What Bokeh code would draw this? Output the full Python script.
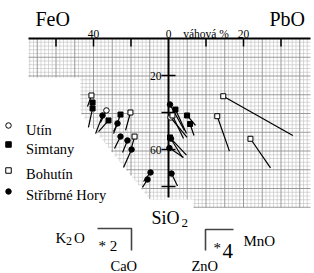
from bokeh.plotting import figure
from bokeh.models import Range1d
from bokeh.embed import file_html
from bokeh.resources import INLINE
from bokeh.core.properties import value

# ---------------- data (chart units: x<0 = FeO %, x>0 = 2*PbO %, y = SiO2 %) -------------
utin_x = [-33.1, 1.1]
utin_y = [38.9, 42.7]
utin_tx = [-36.3, 9.9]
utin_ty = [45.4, 53.5]

simtany_x = [-40.5, -40.5, -32.0, -25.6, 3.7, 9.9, 11.5, 0.8]
simtany_y = [34.6, 37.8, 44.3, 41.1, 38.4, 41.6, 46.2, 53.5]
simtany_tx = [-41.6, -42.7, -37.3, -29.3, 9.6, 14.4, 13.6, 7.5]
simtany_ty = [38.4, 48.1, 50.3, 51.4, 51.4, 47.0, 52.4, 64.3]

bohutin_x = [-41.1, -20.3, -18.1, 2.1, 29.2, 26.0, 43.7]
bohutin_y = [30.8, 40.0, 53.0, 41.6, 31.2, 42.0, 54.2]
bohutin_tx = [-43.2, -22.9, -19.7, 8.0, 66.3, 32.5, 54.4]
bohutin_ty = [36.8, 49.7, 58.9, 54.1, 52.4, 60.9, 69.9]

stribrne_x = [-35.2, -27.2, -25.6, -21.9, -19.7, -9.6, -11.2, 0.8, 1.3, 0.5, 1.6]
stribrne_y = [41.6, 45.9, 53.0, 55.1, 60.0, 72.4, 76.2, 35.7, 54.1, 59.2, 73.0]
stribrne_tx = [-38.9, -29.3, -28.8, -24.5, -24.0, -13.3, -13.9, 8.5, 9.6, 8.0, 4.8]
stribrne_ty = [51.4, 50.3, 59.5, 61.6, 69.7, 77.3, 80.5, 49.7, 63.0, 64.3, 79.7]

feo_ticks = [60, 40, 20]
pbo_ticks = [10, 20, 30]
sio2_ticks = [20, 40, 60, 80]
feo_tick_labels = {40: "40"}
pbo_tick_labels = {10: "váhová %", 20: "20"}
sio2_tick_labels = {20: "20", 60: "60"}

legend_names = ["Utín", "Simtany", "Bohutín", "Stříbrné Hory"]

# ---------------- layout helpers ----------------
W, H = 314, 273
OX, OY = 168.0, 38.0
SX, SY = 1.875, 1.85


def ux(px):
    return (px - OX) / SX


def uy(py):
    return (py - OY) / SY


SERIF = value("Liberation Serif")

p = figure(width=W, height=H, x_range=Range1d(ux(0), ux(W)),
           y_range=Range1d(uy(H), uy(0)), output_backend="svg",
           toolbar_location=None, min_border=0,
           x_axis_type=None, y_axis_type=None)
p.outline_line_color = None
p.background_fill_color = "white"
p.border_fill_color = "white"

# ---------------- graph paper ----------------
cell = 3.75
fine = dict(x0=[], y0=[], x1=[], y1=[])
major = dict(x0=[], y0=[], x1=[], y1=[])
k = 1
while OY + k * cell < 207.5:
    yy = OY + k * cell
    if yy <= 77:
        xl = 28
    elif yy <= 112:
        xl = 80
    else:
        xl = 80 + (yy - 112) * 0.8
    d = major if k % 5 == 0 else fine
    d["x0"].append(ux(xl)); d["x1"].append(ux(310))
    d["y0"].append(uy(yy)); d["y1"].append(uy(yy))
    k += 1
for j in range(-37, 38):
    if j == 0:
        continue
    xx = OX + j * cell
    if xx < 80:
        yb = 77
    elif xx < 156:
        yb = 112 + (xx - 80) / 0.8
    else:
        yb = 207
    d = major if j % 5 == 0 else fine
    d["x0"].append(ux(xx)); d["x1"].append(ux(xx))
    d["y0"].append(uy(38)); d["y1"].append(uy(yb))
p.segment(**fine, line_color="#c0c0c0", line_width=0.6)
p.segment(**major, line_color="#909090", line_width=0.9)

# ---------------- axes ----------------
p.segment(x0=[ux(28)], y0=[0], x1=[ux(310)], y1=[0], line_color="black", line_width=2)
p.segment(x0=[0], y0=[0], x1=[0], y1=[uy(197)], line_color="black", line_width=2)
tx = [-v for v in feo_ticks] + [2 * v for v in pbo_ticks]
p.segment(x0=tx, y0=[0] * len(tx), x1=tx, y1=[uy(46)] * len(tx), line_color="black", line_width=1.5)
p.segment(x0=[ux(161)] * len(sio2_ticks), y0=sio2_ticks, x1=[ux(175)] * len(sio2_ticks),
          y1=sio2_ticks, line_color="black", line_width=1.5)

lx = [-v for v in feo_tick_labels] + [0] + [2 * v for v in pbo_tick_labels]
lt = list(feo_tick_labels.values()) + ["0"] + list(pbo_tick_labels.values())
p.text(x=lx, y=[uy(33)] * len(lx), text=lt, text_align="center", text_baseline="alphabetic",
       text_font=SERIF, text_font_size="11.5px", text_color="black")
p.text(x=[ux(161)] * len(sio2_tick_labels), y=list(sio2_tick_labels.keys()),
       text=list(sio2_tick_labels.values()), text_align="right", text_baseline="middle",
       text_font=SERIF, text_font_size="11.5px", text_color="black")

# oxide names
p.text(x=[ux(35), ux(269)], y=[uy(18.5)] * 2, text=["FeO", "PbO"], text_align="left",
       text_baseline="alphabetic", text_font=SERIF, text_font_size="20px", text_color="black")
p.quad(left=[ux(148)], right=[ux(193)], top=[uy(199)], bottom=[uy(224)], fill_color="white",
       line_color=None)
p.text(x=[ux(151)], y=[uy(217)], text=["SiO"], text_align="left", text_baseline="alphabetic",
       text_font=SERIF, text_font_size="18px", text_color="black")
p.text(x=[ux(181)], y=[uy(222)], text=["2"], text_align="left", text_baseline="alphabetic",
       text_font=SERIF, text_font_size="13px", text_color="black")

# ---------------- data marks ----------------
series = [
    (utin_x, utin_y, utin_tx, utin_ty, "circle", "white", 5.5),
    (bohutin_x, bohutin_y, bohutin_tx, bohutin_ty, "square", "white", 5),
    (simtany_x, simtany_y, simtany_tx, simtany_ty, "square", "black", 5),
    (stribrne_x, stribrne_y, stribrne_tx, stribrne_ty, "circle", "black", 5.5),
]
for xs, ys, txs, tys, m, fc, sz in series:
    p.segment(x0=xs, y0=ys, x1=txs, y1=tys, line_color="black", line_width=1.2)
for xs, ys, txs, tys, m, fc, sz in series:
    p.scatter(x=xs, y=ys, marker=m, size=sz, fill_color=fc, line_color="black", line_width=1)

# ---------------- legend ----------------
leg_y = [125, 144, 170, 191]
leg_base = [129, 148, 173.5, 194.5]
leg_m = ["circle", "square", "square", "circle"]
leg_fc = ["white", "black", "white", "black"]
for i in range(4):
    p.scatter(x=[ux(8)], y=[uy(leg_y[i])], marker=leg_m[i], size=5.5, fill_color=leg_fc[i],
              line_color="black", line_width=1)
p.text(x=[ux(25.5)] * 4, y=[uy(b) for b in leg_base], text=legend_names, text_align="left",
       text_baseline="alphabetic", text_font=SERIF, text_font_size="14.5px", text_color="black")

# ---------------- bottom key ----------------
p.line(x=[ux(97), ux(131), ux(131)], y=[uy(228), uy(228), uy(250)], line_color="#444444",
       line_width=1.6)
p.line(x=[ux(205), ux(205), ux(233)], y=[uy(250), uy(229), uy(229)], line_color="#444444",
       line_width=1.6)
p.text(x=[ux(55)], y=[uy(237)], text=["K"], text_align="left", text_baseline="alphabetic",
       text_font=SERIF, text_font_size="15px", text_color="black")
p.text(x=[ux(65.5)], y=[uy(240.5)], text=["2"], text_align="left", text_baseline="alphabetic",
       text_font=SERIF, text_font_size="12px", text_color="black")
p.text(x=[ux(73.5)], y=[uy(237)], text=["O"], text_align="left", text_baseline="alphabetic",
       text_font=SERIF, text_font_size="15px", text_color="black")
p.text(x=[ux(98)], y=[uy(245)], text=["* 2"], text_align="left", text_baseline="alphabetic",
       text_font=SERIF, text_font_size="15px", text_color="black")
p.text(x=[ux(110)], y=[uy(265.5)], text=["CaO"], text_align="left", text_baseline="alphabetic",
       text_font=SERIF, text_font_size="14.5px", text_color="black")
p.text(x=[ux(213)], y=[uy(247)], text=["*"], text_align="left", text_baseline="alphabetic",
       text_font=SERIF, text_font_size="15px", text_color="black")
p.text(x=[ux(222)], y=[uy(250)], text=["4"], text_align="left", text_baseline="alphabetic",
       text_font=SERIF, text_font_size="21px", text_color="black")
p.text(x=[ux(243)], y=[uy(240)], text=["MnO"], text_align="left", text_baseline="alphabetic",
       text_font=SERIF, text_font_size="15px", text_color="black")
p.text(x=[ux(191)], y=[uy(265.5)], text=["ZnO"], text_align="left", text_baseline="alphabetic",
       text_font=SERIF, text_font_size="14.5px", text_color="black")

open("out.html", "w").write(file_html(p, INLINE))
